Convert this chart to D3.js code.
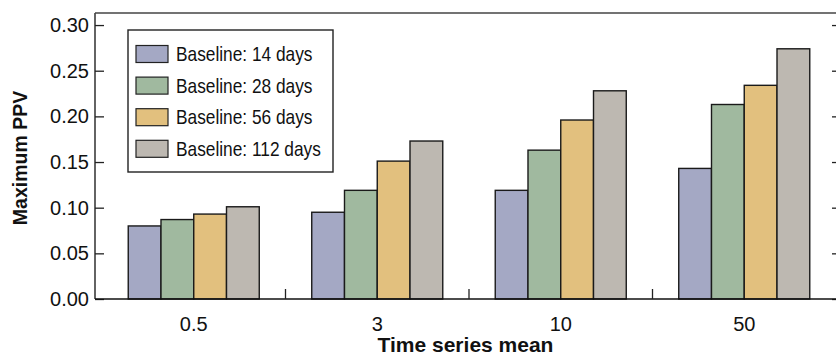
<!DOCTYPE html>
<html>
<head>
<meta charset="utf-8">
<script src="https://cdn.jsdelivr.net/npm/d3@7"></script>
<style>
  html, body { margin: 0; padding: 0; background: #fff; }
  svg { display: block; font-family: "Liberation Sans", Arial, Helvetica, sans-serif; }
</style>
</head>
<body>
<svg id="chart" width="836" height="356"></svg>
<script>
const categories = ["0.5", "3", "10", "50"];
const seriesNames = ["Baseline: 14 days", "Baseline: 28 days", "Baseline: 56 days", "Baseline: 112 days"];
const series14 = [0.080, 0.095, 0.119, 0.143];
const series28 = [0.087, 0.119, 0.163, 0.213];
const series56 = [0.093, 0.151, 0.196, 0.234];
const series112 = [0.101, 0.173, 0.228, 0.274];
const seriesColors = ["#a4a8c4", "#a0b99f", "#e2c07e", "#bdb8b1"];
const yTicks = [0, 0.05, 0.10, 0.15, 0.20, 0.25, 0.30];
const xTitle = "Time series mean";
const yTitle = "Maximum PPV";

const allSeries = [series14, series28, series56, series112];

const svg = d3.select("#chart");
const pLeft = 95, pRight = 838, pTop = 13, pBottom = 299;

const y = d3.scaleLinear().domain([0, 0.3132]).range([pBottom, pTop]);
const x0 = d3.scaleBand().domain(categories).range([102, 836])
  .paddingInner(0.286).paddingOuter(0.143);
const x1 = d3.scaleBand().domain(d3.range(seriesNames.length)).range([0, x0.bandwidth()]);

// bars
const groups = svg.append("g").selectAll("g").data(categories).join("g")
  .attr("transform", d => `translate(${x0(d)},0)`);
groups.selectAll("rect")
  .data((c, ci) => allSeries.map((s, si) => ({ si, v: s[ci] })))
  .join("rect")
  .attr("x", d => x1(d.si))
  .attr("width", x1.bandwidth())
  .attr("y", d => y(d.v))
  .attr("height", d => y(0) - y(d.v))
  .attr("fill", d => seriesColors[d.si])
  .attr("stroke", "#1a1a1a")
  .attr("stroke-width", 1.4);

// left axis
const yAxisL = d3.axisLeft(y).tickValues(yTicks).tickFormat(d3.format(".2f"))
  .tickSizeInner(-9).tickSizeOuter(0).tickPadding(6);
const gL = svg.append("g").attr("transform", `translate(${pLeft},0)`).call(yAxisL);
gL.select(".domain").remove();
gL.selectAll(".tick line").attr("stroke", "#222").attr("stroke-width", 1.3);
gL.selectAll(".tick text").attr("x", -6).attr("font-size", 20).attr("fill", "#111")
  .attr("font-family", "'Liberation Sans', Arial, sans-serif");

// right axis ticks
const yAxisR = d3.axisRight(y).tickValues(yTicks).tickFormat("").tickSizeInner(-6).tickSizeOuter(0);
const gR = svg.append("g").attr("transform", `translate(${pRight},0)`).call(yAxisR);
gR.select(".domain").remove();
gR.selectAll(".tick line").attr("stroke", "#222").attr("stroke-width", 1.3);

// frame lines
svg.append("line").attr("x1", pLeft).attr("x2", pLeft).attr("y1", pTop).attr("y2", pBottom)
  .attr("stroke", "#222").attr("stroke-width", 1.4);
svg.append("line").attr("x1", pLeft).attr("x2", 836).attr("y1", pBottom).attr("y2", pBottom)
  .attr("stroke", "#111").attr("stroke-width", 1.6);
svg.append("line").attr("x1", pLeft).attr("x2", 836).attr("y1", pTop).attr("y2", pTop)
  .attr("stroke", "#444").attr("stroke-width", 1.4);

// x category labels
const xAxis = d3.axisBottom(x0).tickSize(0).tickPadding(18);
const gX = svg.append("g").attr("transform", `translate(0,${pBottom})`).call(xAxis);
gX.select(".domain").remove();
gX.selectAll(".tick text").attr("font-size", 20).attr("fill", "#111")
  .attr("font-family", "'Liberation Sans', Arial, sans-serif");

// separator ticks between groups
const sepX = categories.slice(1).map(c => x0(c) - x0.step() * x0.paddingInner() / 2);
svg.append("g").selectAll("line").data(sepX).join("line")
  .attr("x1", d => d).attr("x2", d => d)
  .attr("y1", pBottom).attr("y2", pBottom - 10)
  .attr("stroke", "#222").attr("stroke-width", 1.3);

// titles
svg.append("text").attr("x", (pLeft + 836) / 2).attr("y", 351.5)
  .attr("text-anchor", "middle").attr("font-weight", "bold").attr("font-size", 21)
  .attr("fill", "#111").text(xTitle);
svg.append("text").attr("transform", `translate(27,${(pTop + pBottom) / 2 + 2}) rotate(-90)`)
  .attr("text-anchor", "middle").attr("font-weight", "bold").attr("font-size", 19.5)
  .attr("fill", "#111").text(yTitle);

// legend
const lg = svg.append("g");
lg.append("rect").attr("x", 128).attr("y", 30).attr("width", 205).attr("height", 142)
  .attr("fill", "#fff").attr("stroke", "#222").attr("stroke-width", 1.4);
const items = lg.selectAll("g.item").data(seriesNames).join("g").attr("class", "item")
  .attr("transform", (d, i) => `translate(136,${54 + i * 31.6})`);
items.append("rect").attr("x", 0).attr("y", -8.5).attr("width", 32).attr("height", 17)
  .attr("fill", (d, i) => seriesColors[i]).attr("stroke", "#222").attr("stroke-width", 1.2);
items.append("text").attr("transform", "translate(40,0) scale(0.865,1)")
  .attr("dy", "0.36em")
  .attr("font-size", 20)
  .attr("fill", "#111").text(d => d);
</script>
</body>
</html>
